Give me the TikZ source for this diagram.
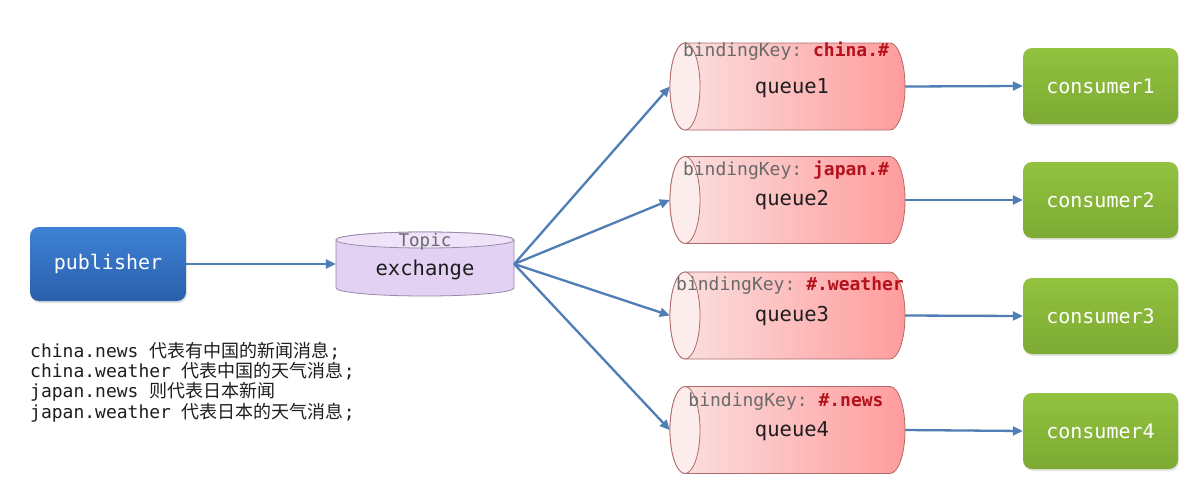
\documentclass[tikz,border=0pt]{standalone}
\usepackage{fontspec}
\setmonofont{DejaVu Sans Mono}
\newfontfamily\cjk{Noto Sans CJK SC}
\usetikzlibrary{arrows.meta,shadows}
\definecolor{pubtop}{HTML}{3E82D6}
\definecolor{pubbot}{HTML}{2A5FAA}
\definecolor{contop}{HTML}{92C23F}
\definecolor{conbot}{HTML}{7DAA33}
\definecolor{exbody}{HTML}{E2D1F2}
\definecolor{extop}{HTML}{EEE3F8}
\definecolor{exborder}{HTML}{9A8AAA}
\definecolor{qL}{HTML}{FBE2E2}
\definecolor{qR}{HTML}{FF9C9C}
\definecolor{qEnd}{HTML}{FDECEC}
\definecolor{qB}{HTML}{B06A6A}
\definecolor{arrowc}{HTML}{4F7DB5}
\definecolor{keyred}{HTML}{B3121C}
\definecolor{keygray}{HTML}{6A6A6A}
\definecolor{txt}{HTML}{1E1E1E}
\tikzset{
  conn/.style={draw=arrowc, line width=2.3pt, -{Triangle[length=10pt,width=9pt]}},
  pubbox/.style={rounded corners=9pt, top color=pubtop, bottom color=pubbot, draw=none,
    minimum width=156pt, minimum height=74pt, text=white,
    font=\ttfamily\fontsize{20}{24}\selectfont, drop shadow={opacity=0.25,shadow xshift=1pt,shadow yshift=-2pt}},
  conbox/.style={rounded corners=9pt, top color=contop, bottom color=conbot, draw=none,
    minimum width=155pt, minimum height=76pt, text=white,
    font=\ttfamily\fontsize{20}{24}\selectfont, drop shadow={opacity=0.2,shadow xshift=1pt,shadow yshift=-2pt}},
  anchorbox/.style={minimum width=#1, inner sep=0pt, draw=none},
  keylabel/.style={font=\ttfamily\fontsize{18}{21}\selectfont, text=keygray},
  qlabel/.style={font=\ttfamily\fontsize{20.5}{24}\selectfont, text=txt},
  note/.style={anchor=west, font=\ttfamily\fontsize{18}{20}\selectfont, text=txt, inner sep=0pt},
}
\newcommand\queuecyl[3]{%
  \begin{scope}[shift={(#1,#2)}]
    \shade[left color=qL, right color=qR, draw=qB, line width=0.8pt]
      (-102.5,43.5) -- (102.5,43.5) arc[start angle=90,end angle=-90,x radius=15,y radius=43.5]
      -- (-102.5,-43.5) arc[start angle=270,end angle=90,x radius=15,y radius=43.5] -- cycle;
    \filldraw[fill=qEnd, draw=qB, line width=0.8pt] (-102.5,0) ellipse[x radius=15,y radius=43.5];
  \end{scope}
  \node[anchorbox=235pt, minimum height=87pt] (#3) at (#1,#2) {};
}
\begin{document}
\begin{tikzpicture}[x=1pt,y=1pt]
\useasboundingbox[fill=white] (0,0) rectangle (1196,-483);

% publisher
\node[pubbox] (pub) at (108,-264) {publisher};

% exchange cylinder
\path[draw=exborder, fill=exbody, line width=0.8pt] (336,-240) -- (336,-288)
  arc[start angle=180,end angle=360,x radius=89,y radius=8] -- (514,-240)
  arc[start angle=0,end angle=180,x radius=89,y radius=8] -- cycle;
\filldraw[fill=extop, draw=exborder, line width=0.8pt] (425,-240) ellipse[x radius=89,y radius=8];
\node[anchorbox=178pt, minimum height=64pt] (ex) at (425,-264) {};
\node[font=\ttfamily\fontsize{17.5}{20}\selectfont, text=keygray] (topic) at (425,-242) {Topic};
\node[qlabel] (exl) at (425,-270) {exchange};

% queues
\queuecyl{787.5}{-86.5}{q1}
\queuecyl{787.5}{-200}{q2}
\queuecyl{787.5}{-315.5}{q3}
\queuecyl{787.5}{-430}{q4}

\node[keylabel] (k1) at (786,-51) {bindingKey: \textcolor{keyred}{\bfseries china.\#}};
\node[keylabel] (k2) at (786,-170) {bindingKey: \textcolor{keyred}{\bfseries japan.\#}};
\node[keylabel] (k3) at (790,-286) {bindingKey: \textcolor{keyred}{\bfseries \#.weather}};
\node[keylabel] (k4) at (786,-402) {bindingKey: \textcolor{keyred}{\bfseries \#.news}};

\node[qlabel] (l1) at (792,-88) {queue1};
\node[qlabel] (l2) at (792,-200) {queue2};
\node[qlabel] (l3) at (792,-316) {queue3};
\node[qlabel] (l4) at (792,-431) {queue4};

% consumers
\node[conbox] (c1) at (1100.5,-86) {consumer1};
\node[conbox] (c2) at (1100.5,-200) {consumer2};
\node[conbox] (c3) at (1100.5,-316) {consumer3};
\node[conbox] (c4) at (1100.5,-431) {consumer4};

% connectors
\draw[conn] (pub.east) -- (ex.west);
\draw[conn] (ex.east) -- (q1.west);
\draw[conn] (ex.east) -- (q2.west);
\draw[conn] (ex.east) -- (q3.west);
\draw[conn] (ex.east) -- (q4.west);
\draw[conn] (q1.east) -- (c1.west);
\draw[conn] (q2.east) -- (c2.west);
\draw[conn] (q3.east) -- (c3.west);
\draw[conn] (q4.east) -- (c4.west);

% notes
\node[note] (n1) at (30,-351) {china.news {\cjk 代表有中国的新闻消息};};
\node[note] (n2) at (30,-371) {china.weather {\cjk 代表中国的天气消息};};
\node[note] (n3) at (30,-392) {japan.news {\cjk 则代表日本新闻}};
\node[note] (n4) at (30,-413) {japan.weather {\cjk 代表日本的天气消息};};
\end{tikzpicture}
\end{document}
